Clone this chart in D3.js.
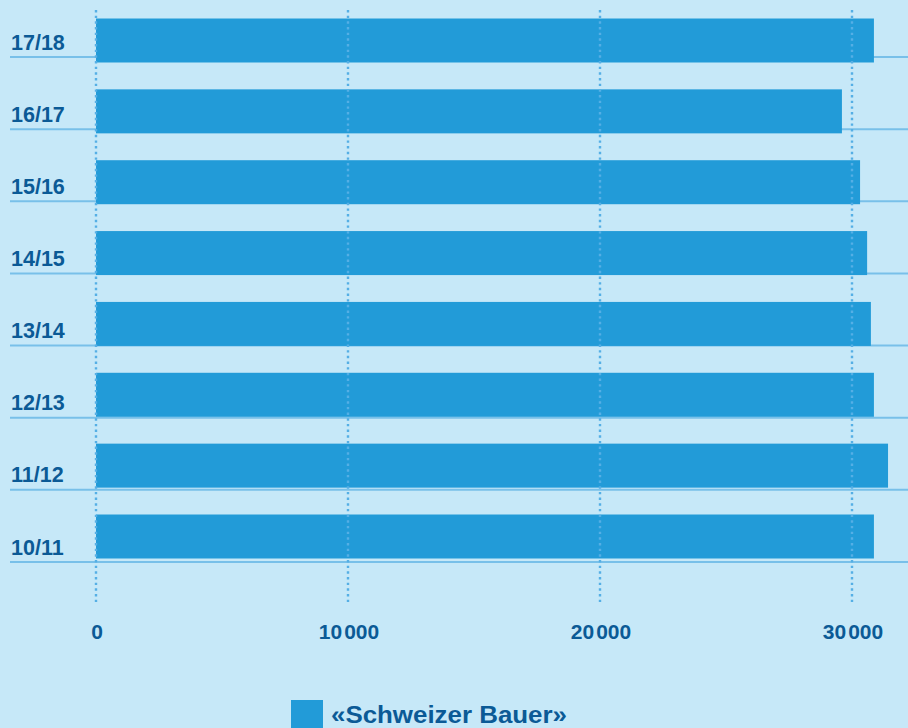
<!DOCTYPE html>
<html>
<head>
<meta charset="utf-8">
<script src="https://cdn.jsdelivr.net/npm/d3@7"></script>
<style>
  html, body { margin: 0; padding: 0; background: #c6e8f8; }
  svg { display: block; }
  text { font-family: "Liberation Sans", Arial, sans-serif; font-weight: bold; fill: #0b5a96; }
</style>
</head>
<body>
<svg id="chart" width="908" height="728"></svg>
<script>
const categories = ["17/18", "16/17", "15/16", "14/15", "13/14", "12/13", "11/12", "10/11"];
const values = [30870, 29600, 30320, 30600, 30750, 30870, 31430, 30870];
const tickValues = [0, 10000, 20000, 30000];
const seriesName = "«Schweizer Bauer»";

const W = 908, H = 728;
const svg = d3.select("#chart");
svg.append("rect").attr("width", W).attr("height", H).attr("fill", "#c6e8f8");

const x = d3.scaleLinear().domain([0, 30000]).range([96, 852]);
const yBar = d3.scalePoint().domain(categories).range([40.5, 536.5]);
const yLine = d3.scalePoint().domain(categories).range([57, 562]);
const barH = 44;

// horizontal separator lines (behind bars)
svg.append("g").selectAll("line").data(categories).join("line")
  .attr("x1", 10).attr("x2", W)
  .attr("y1", d => yLine(d)).attr("y2", d => yLine(d))
  .attr("stroke", "#78c0e9").attr("stroke-width", 2);

// bars
svg.append("g").selectAll("rect").data(categories).join("rect")
  .attr("x", x(0))
  .attr("y", d => yBar(d) - barH / 2)
  .attr("width", (d, i) => x(values[i]) - x(0))
  .attr("height", barH)
  .attr("fill", "#229bd8");

// dotted vertical gridlines (on top)
svg.append("g").selectAll("line").data(tickValues).join("line")
  .attr("x1", d => x(d)).attr("x2", d => x(d))
  .attr("y1", 10).attr("y2", 605)
  .attr("stroke", "#55afe5").attr("stroke-width", 2.4)
  .attr("stroke-dasharray", "2.4 3.27");

// category labels
svg.append("g").selectAll("text").data(categories).join("text")
  .attr("x", 11)
  .attr("y", d => yLine(d) - 7.5)
  .attr("font-size", 21.5)
  .text(d => d);

// x tick labels (thousands separated by a narrow gap)
const tickG = svg.append("g").selectAll("text").data(tickValues).join("text")
  .attr("x", d => x(d) + 1)
  .attr("y", 639)
  .attr("text-anchor", "middle")
  .attr("font-size", 21);
tickG.each(function(d) {
  const parts = d3.format(",")(d).split(",");
  const t = d3.select(this);
  parts.forEach((p, i) => {
    t.append("tspan").attr("dx", i === 0 ? 0 : 2).text(p);
  });
});

// legend
svg.append("rect").attr("x", 291).attr("y", 700).attr("width", 32).attr("height", 32).attr("fill", "#229bd8");
svg.append("text").attr("x", 331).attr("y", 723).attr("font-size", 23.5)
  .attr("textLength", 236).attr("lengthAdjust", "spacingAndGlyphs")
  .text(seriesName);
</script>
</body>
</html>
